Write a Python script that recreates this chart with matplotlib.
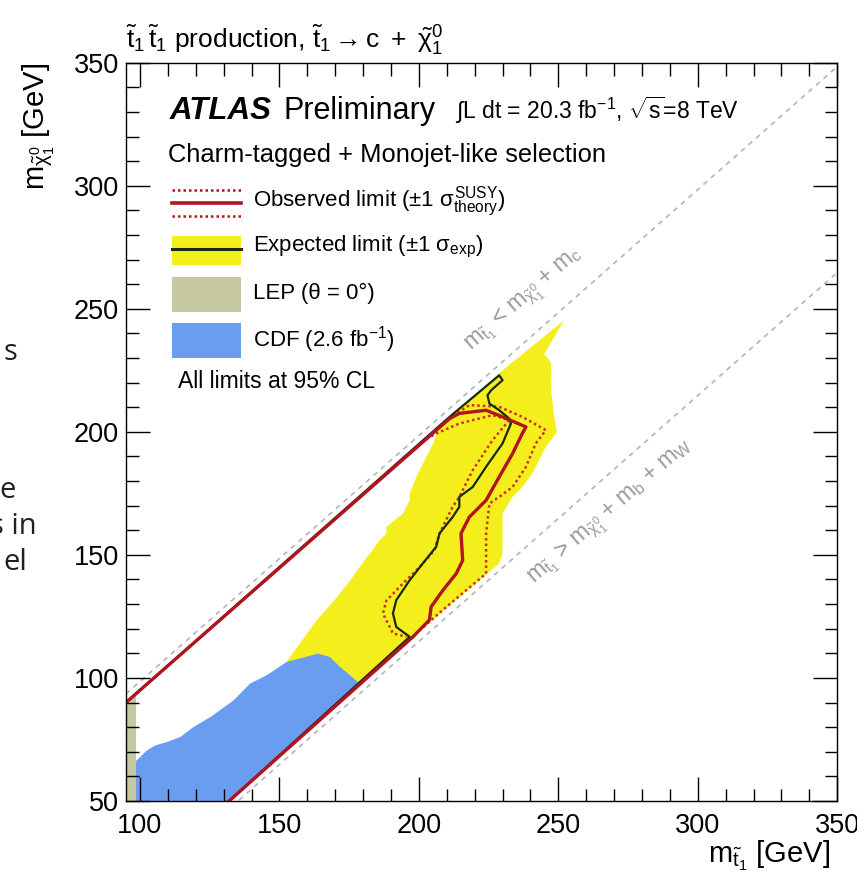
import matplotlib
matplotlib.use("Agg")
import matplotlib.pyplot as plt
from matplotlib.patches import Rectangle
from matplotlib.lines import Line2D
import numpy as np

plt.rcParams['font.family'] = ['Liberation Sans', 'DejaVu Sans']
plt.rcParams['mathtext.fontset'] = 'custom'
plt.rcParams['mathtext.rm'] = 'Liberation Sans'
plt.rcParams['mathtext.it'] = 'Liberation Sans'
plt.rcParams['mathtext.bf'] = 'Liberation Sans:bold'
plt.rcParams['mathtext.sf'] = 'Liberation Sans'

# masses used for kinematic boundaries [GeV]
m_c = 1.5
m_b = 4.8
m_W = 80.4

# observed limit (solid red)
obs_x = [95, 211.0, 214.5, 224.1, 230.0, 238.4, 237.1, 233.6, 228.8, 224.1, 218.1, 215.1,
         215.7, 213.4, 208.6, 204.4, 203.8, 197.9, 132]
obs_y = [90, 205.4, 207.5, 208.8, 206.1, 202.0, 199.4, 191.2, 181.7, 172.2, 165.4, 158.7,
         147.8, 142.4, 135.6, 128.9, 123.6, 116.7, 50]

# observed +/- 1 sigma theory (dotted red)
obs_up_x = [209, 218.1, 228.8, 237.1, 245.5, 241.9, 238.4, 233.6, 228.8, 225.3, 224.1, 224.1, 210, 197.9]
obs_up_y = [204, 210.9, 210.2, 206.1, 200.7, 195.3, 185.8, 177.6, 173.6, 170.9, 158.7, 142.4, 129, 117]
obs_dn_x = [201, 206.2, 214.5, 226.4, 232.4, 226.4, 219.3, 214.5, 212.1, 207.4, 205.6, 200.3,
            194.3, 188.4, 187.1, 190.7, 195.5]
obs_dn_y = [196, 199.3, 203.4, 206.8, 204.8, 196.6, 184.4, 173.6, 169.5, 158.7, 151.9, 145.1,
            138.4, 131.5, 126.2, 118.1, 116.7]

# expected limit (black)
exp_x = [95, 211.0, 228.8, 230.0, 225.9, 224.6, 225.3, 228.8, 232.4, 233.0, 230.0, 224.1, 219.3,
         214.5, 214.5, 212.1, 207.4, 206.2, 201.4, 196.7, 191.9, 190.7, 191.9, 196.7, 132]
exp_y = [90, 206.1, 223.0, 221.0, 216.9, 214.9, 211.5, 208.8, 205.4, 203.4, 195.3, 185.8, 177.6,
         173.6, 169.5, 165.4, 158.7, 153.3, 146.5, 139.7, 131.6, 126.2, 120.7, 116.7, 50]

# expected +/- 1 sigma band (yellow)
band_x = [152.6, 163.4, 170, 175, 178.8, 186.0, 188.4, 188.4, 194.3, 196.7, 196.7, 199.1, 200.9,
          205.0, 207.5, 230.0, 252.1, 244.9, 247.3, 247.4, 248.5, 249.5, 245.5, 240.7, 237.1,
          233.6, 230.0, 230.0, 228.8, 197.9, 178.0, 160.0]
band_y = [106.5, 123.5, 132, 139, 145.1, 156.0, 158.7, 161.4, 166.8, 172.2, 175.0, 181.7, 185.8,
          195.0, 202.5, 225.0, 245.4, 231.6, 228.3, 216.9, 206.1, 199.9, 193.9, 183.1, 177.6,
          173.6, 166.8, 150.6, 146.5, 116.7, 96.5, 100.0]

# CDF (2.6 fb-1) excluded region
cdf_x = [98.3, 98.3, 102.6, 105.6, 109.8, 114.5, 119.3, 125.3, 133.6, 139.5, 145.5, 152.6,
         157.4, 163.9, 168.1, 171.7, 179.0, 132]
cdf_y = [50, 65.9, 70.6, 72.6, 74.0, 76.0, 80.1, 84.1, 90.9, 97.7, 101.1, 106.5,
         107.9, 109.9, 108.5, 104.5, 97.5, 50]

# LEP excluded region
lep_x = [95, 98.6, 98.6, 95]
lep_y = [50, 50, 93, 90]

x_lim = (95, 350)
y_lim = (50, 350)

RED = '#b0141e'
YELLOW = '#f4ee1c'
LEP_C = '#c6c8a2'
CDF_C = '#6a9cf0'
GRAY = '#b4b4b4'

fig = plt.figure(figsize=(8.57, 8.85), dpi=100)
ax = fig.add_axes([0.147, 0.095, 0.830, 0.834])

ax.fill(band_x, band_y, color=YELLOW, lw=0, zorder=1)
ax.fill(cdf_x, cdf_y, color=CDF_C, lw=0, zorder=1.2)
ax.fill(lep_x, lep_y, color=LEP_C, lw=0, zorder=1.2)

# kinematic boundaries
xk = np.array(x_lim)
ax.plot(xk, xk - m_c, color=GRAY, ls=(0, (3, 3)), lw=1.2, zorder=1.5)
ax.plot(xk, xk - m_b - m_W, color=GRAY, ls=(0, (3, 3)), lw=1.2, zorder=1.5)

ax.plot(obs_up_x, obs_up_y, color='#c8321e', ls=(0, (1, 1.2)), lw=1.8, zorder=2)
ax.plot(obs_dn_x, obs_dn_y, color='#c8321e', ls=(0, (1, 1.2)), lw=1.8, zorder=2)
ax.plot(exp_x, exp_y, color='#1a2a10', lw=1.6, zorder=2.1)
ax.plot(obs_x, obs_y, color=RED, lw=2.4, zorder=2.2)

ax.set_xlim(*x_lim)
ax.set_ylim(*y_lim)
ax.set_xticks([100, 150, 200, 250, 300, 350])
ax.set_yticks([50, 100, 150, 200, 250, 300, 350])
ax.set_xticks(np.arange(100, 350, 10), minor=True)
ax.set_yticks(np.arange(50, 350, 10), minor=True)
ax.tick_params(which='both', direction='in', top=True, right=True, labelsize=19.5, width=1)
ax.tick_params(which='major', length=17)
ax.tick_params(which='minor', length=9)
ax.tick_params(axis='x', which='major', pad=9)
ax.tick_params(axis='y', which='major', pad=5)
for sp in ax.spines.values():
    sp.set_linewidth(1.0)

ax.set_xlabel(r"m$_{\tilde{t}_{1}}$ [GeV]", fontsize=21, loc='right')
ax.xaxis.set_label_coords(0.99, -0.052)
ax.set_ylabel(r"m$_{\tilde{\chi}^{0}_{1}}$ [GeV]", fontsize=21, loc='top')
ax.yaxis.set_label_coords(-0.097, 1.0)

ax.text(0.0, 1.008,
        r"$\tilde{t}_{1}\,\tilde{t}_{1}$ production, $\tilde{t}_{1} \rightarrow {\rm c}\ +\ \tilde{\chi}^{0}_{1}$",
        transform=ax.transAxes, fontsize=19, va='bottom', ha='left')

# header texts
ax.text(0.062, 0.924, "ATLAS", transform=ax.transAxes, fontsize=22.5, fontweight='bold',
        fontstyle='italic', va='baseline')
ax.text(0.221, 0.924, "Preliminary", transform=ax.transAxes, fontsize=22, va='baseline')
ax.text(0.462, 0.924, r"$\int$L dt = 20.3 fb$^{-1}$, $\sqrt{s}$=8 TeV", transform=ax.transAxes,
        fontsize=16.5, va='baseline')
ax.text(0.059, 0.866, "Charm-tagged + Monojet-like selection", transform=ax.transAxes,
        fontsize=18.4, va='baseline')

# legend
lx0, lx1 = 0.0647, 0.1616
tx = 0.1785
ax.add_line(Line2D([lx0, lx1], [0.828, 0.828], transform=ax.transAxes, color=RED, ls=(0, (1, 1.2)), lw=1.8))
ax.add_line(Line2D([lx0, lx1], [0.810, 0.810], transform=ax.transAxes, color=RED, lw=2.6))
ax.add_line(Line2D([lx0, lx1], [0.793, 0.793], transform=ax.transAxes, color=RED, ls=(0, (1, 1.2)), lw=1.8))
ax.text(tx, 0.812, r"Observed limit ($\pm$1 $\sigma^{\rm SUSY}_{\rm theory}$)", transform=ax.transAxes,
        fontsize=16, va='center')
ax.add_patch(Rectangle((lx0, 0.726), lx1 - lx0, 0.040, transform=ax.transAxes, color=YELLOW, lw=0))
ax.add_line(Line2D([lx0, lx1], [0.748, 0.748], transform=ax.transAxes, color='#1a2a10', lw=2.2))
ax.text(tx, 0.751, r"Expected limit ($\pm$1 $\sigma_{\rm exp}$)", transform=ax.transAxes,
        fontsize=16, va='center')
ax.add_patch(Rectangle((lx0, 0.663), lx1 - lx0, 0.047, transform=ax.transAxes, color=LEP_C, lw=0))
ax.text(tx, 0.688, "LEP (θ = 0°)", transform=ax.transAxes, fontsize=16, va='center')
ax.add_patch(Rectangle((lx0, 0.600), lx1 - lx0, 0.048, transform=ax.transAxes, color=CDF_C, lw=0))
ax.text(tx, 0.625, r"CDF (2.6 fb$^{-1}$)", transform=ax.transAxes, fontsize=16, va='center')
ax.text(0.073, 0.568, "All limits at 95% CL", transform=ax.transAxes, fontsize=16.5, va='center')

# kinematic boundary labels
ax.text(237.8, 253.5, r"m$_{\tilde{t}_{1}}$ < m$_{\tilde{\chi}^{0}_{1}}$ + m$_{c}$", color='#9a9a9a',
        fontsize=16.5, rotation=41, ha='center', va='center', rotation_mode='anchor')
ax.text(268.9, 167.3, r"m$_{\tilde{t}_{1}}$ > m$_{\tilde{\chi}^{0}_{1}}$ + m$_{b}$ + m$_{W}$", color='#9a9a9a',
        fontsize=16.5, rotation=41, ha='center', va='center', rotation_mode='anchor')

# slide text fragments at the left border
for s, xp, yp in [("s", 17, 352), ("e", 16, 491), ("s in", 37, 527), ("el", 27, 563)]:
    fig.text(xp / 857, 1 - yp / 885, s, fontsize=21, ha='right', va='center',
             family=['Open Sans', 'DejaVu Sans'], color='#202020')

fig.savefig("out.png", dpi=100)
